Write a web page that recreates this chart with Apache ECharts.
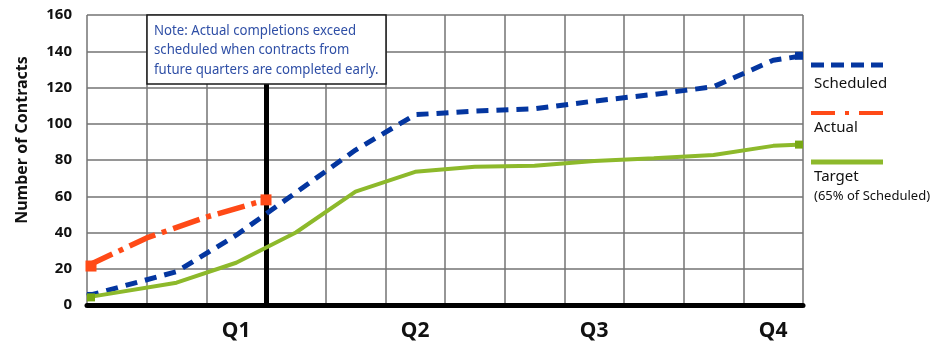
<!DOCTYPE html>
<html>
<head>
<meta charset="utf-8">
<script src="https://cdn.jsdelivr.net/npm/echarts@6/dist/echarts.min.js"></script>
<style>
html,body{margin:0;padding:0;background:#fff;}
#chart{width:948px;height:347px;}
</style>
</head>
<body>
<div id="chart"></div>
<script>
// ---- data (months from start of year, number of contracts) ----
const planMonths      = [0, 1.5, 2.5, 3.5, 4.5, 5.5, 6.5, 7.5, 8.5, 9.5, 10.5, 11.5, 12];
const scheduledValues = [5, 18.4, 38.5, 62, 85.5, 105, 107, 108.3, 112.5, 116.2, 120.4, 135, 137.5];
const targetValues    = [4.2, 12.3, 23.3, 40, 62.5, 73.5, 76.3, 76.8, 79.5, 81, 82.8, 87.8, 88.5];
const actualMonths    = [0, 1, 2, 3];
const actualValues    = [21.5, 37, 48.5, 58];
const quarterLabels   = ['Q1', 'Q2', 'Q3', 'Q4'];
const quarterCenters  = [2.5, 5.5, 8.5, 11.5];
const quarterDivider  = 3;
const yTicks          = [0, 20, 40, 60, 80, 100, 120, 140, 160];
const noteText = 'Note: Actual completions exceed\nscheduled when contracts from\nfuture quarters are completed early.';

const BLUE = '#0436a0', ORANGE = '#ff4a17', GREEN = '#8db92b', GREEN_MK = '#78a813';

function build(months, values, color) {
  const last = months.length - 1;
  return months.map((m, i) => {
    const end = (i === 0 || i === last);
    const o = { value: [m, values[i]], symbol: end ? 'rect' : 'none' };
    if (i === 0) o.symbolOffset = [4, 0];
    if (i === last && m === 12) o.symbolOffset = [-4, 0];
    if (end && color) o.itemStyle = { color: color };
    return o;
  });
}

const chart = echarts.init(document.getElementById('chart'), null, { renderer: 'canvas' });
const FONT = '"Noto Sans", "DejaVu Sans", sans-serif';

chart.setOption({
  animation: false,
  backgroundColor: '#ffffff',
  grid: { left: 87, right: 145, top: 15, bottom: 42, containLabel: false },
  xAxis: [
    {
      type: 'value', min: 0, max: 12, interval: 1,
      axisLine: { show: true, onZero: false, lineStyle: { color: '#000', width: 5 } },
      axisTick: { show: false },
      axisLabel: { show: false },
      splitLine: { show: true, lineStyle: { color: '#737373', width: 1.5 } }
    },
    {
      type: 'value', min: 0, max: 12, interval: 0.5, position: 'bottom',
      axisLine: { show: false }, axisTick: { show: false }, splitLine: { show: false },
      axisLabel: {
        show: true, margin: 16, color: '#111', fontFamily: FONT, fontWeight: 'bold', fontSize: 21,
        formatter: function (v) {
          const i = quarterCenters.indexOf(v);
          return i >= 0 ? quarterLabels[i] : '';
        }
      }
    }
  ],
  yAxis: {
    type: 'value', min: yTicks[0], max: yTicks[yTicks.length - 1], interval: yTicks[1] - yTicks[0],
    name: 'Number of Contracts', nameLocation: 'middle', nameGap: 57,
    nameTextStyle: { color: '#111', fontFamily: FONT, fontWeight: 'bold', fontSize: 16, padding: [0, 0, 0, 40] },
    axisLine: { show: false }, axisTick: { show: false },
    axisLabel: { color: '#111', fontFamily: FONT, fontWeight: 'bold', fontSize: 15, margin: 15 },
    splitLine: { show: true, lineStyle: { color: '#737373', width: 1.5 } }
  },
  series: [
    {
      name: 'divider', type: 'line', data: [], z: 1, silent: true,
      markLine: {
        z: 1, silent: true, symbol: ['none', 'none'], label: { show: false },
        lineStyle: { color: '#000', width: 5, type: 'solid' },
        data: [{ xAxis: quarterDivider }]
      }
    },
    {
      name: 'Actual', type: 'line', z: 6,
      data: build(actualMonths, actualValues),
      symbolSize: 11,
      lineStyle: { color: ORANGE, width: 5.5, type: [28, 7, 5, 7], cap: 'butt' },
      itemStyle: { color: ORANGE }
    },
    {
      name: 'Scheduled', type: 'line', z: 7,
      data: build(planMonths, scheduledValues),
      symbolSize: 8,
      lineStyle: { color: BLUE, width: 5, type: [12, 8], cap: 'butt' },
      itemStyle: { color: BLUE }
    },
    {
      name: 'Target', type: 'line', z: 8,
      data: build(planMonths, targetValues, GREEN_MK),
      symbolSize: 8,
      lineStyle: { color: GREEN, width: 4 },
      itemStyle: { color: GREEN }
    }
  ],
  graphic: [
    { type: 'rect', z: 100, shape: { x: 147, y: 15, width: 239, height: 69 },
      style: { fill: '#fff', stroke: '#1a1a1a', lineWidth: 1.5 } },
    { type: 'text', z: 101, x: 154, y: 21, scaleX: 0.88,
      style: { text: noteText, font: '15px ' + FONT, fill: '#2f4fa6', lineHeight: 19.3, verticalAlign: 'top', align: 'left' } },

    { type: 'line', z: 100, shape: { x1: 811, y1: 65, x2: 883, y2: 65 },
      style: { stroke: BLUE, lineWidth: 5, lineDash: [13, 7] } },
    { type: 'text', z: 100, x: 814, y: 84,
      style: { text: 'Scheduled', font: '15px ' + FONT, fill: '#111', verticalAlign: 'middle' } },

    { type: 'line', z: 100, shape: { x1: 811, y1: 113, x2: 883, y2: 113 },
      style: { stroke: ORANGE, lineWidth: 4, lineDash: [24, 10, 4, 10] } },
    { type: 'text', z: 100, x: 814, y: 128,
      style: { text: 'Actual', font: '15px ' + FONT, fill: '#111', verticalAlign: 'middle' } },

    { type: 'line', z: 100, shape: { x1: 811, y1: 162, x2: 883, y2: 162 },
      style: { stroke: GREEN, lineWidth: 5 } },
    { type: 'text', z: 100, x: 814, y: 177,
      style: { text: 'Target', font: '15px ' + FONT, fill: '#111', verticalAlign: 'middle' } },
    { type: 'text', z: 100, x: 814, y: 196,
      style: { text: '(65% of Scheduled)', font: '13px ' + FONT, fill: '#111', verticalAlign: 'middle' } }
  ]
});
</script>
</body>
</html>
